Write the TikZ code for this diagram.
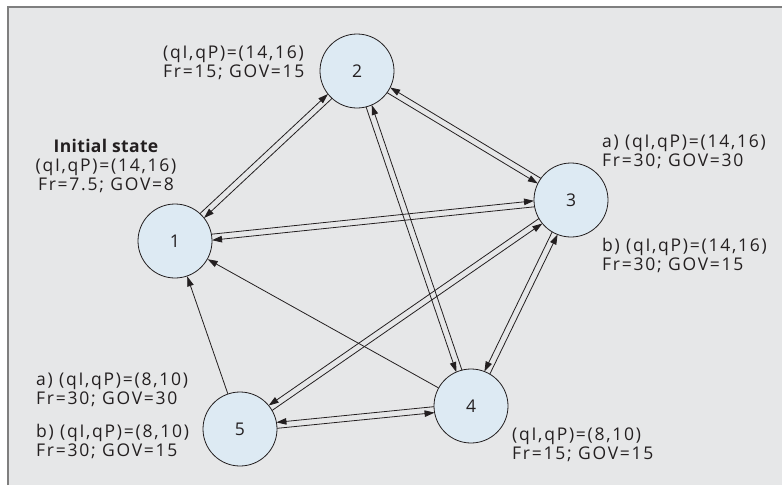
\documentclass[tikz,border=0pt]{standalone}
\usepackage{fontspec}
\setmainfont{Open Sans}[LetterSpace=10]
\usetikzlibrary{positioning, calc, arrows.meta}

\definecolor{panel}{HTML}{E6E7E8}
\definecolor{frame}{HTML}{7F7F7F}
\definecolor{statefill}{HTML}{DDEAF3}
\definecolor{ink}{HTML}{231F20}

\tikzset{
  state/.style={circle, draw=ink, fill=statefill, line width=0.8pt, minimum size=74pt, inner sep=0pt, text=ink},
  info/.style={inner sep=0pt, anchor=west, align=left, text=ink},
  arr/.style={draw=ink, line width=0.8pt, -{Triangle[length=10pt,width=6.5pt]}},
  parr/.style={arr, shorten <=36.9pt, shorten >=36.9pt}
}

\begin{document}
\begin{tikzpicture}[x=1pt, y=-1pt, font=\fontsize{17.5}{19}\selectfont]
                \useasboundingbox (0,0) rectangle (782,485);
                \fill [panel] (8,7) rectangle (782,485);
                \draw [frame, line width=1.5pt] (8,485) -- (8,7) -- (782,7);

                \node [state] (n1) at (175,241) {1};
                \node [state] (n2) at (357,71) {2};
                \node [state] (n3) at (571,200) {3};
                \node [state] (n4) at (471,406) {4};
                \node [state] (n5) at (240,429) {5};

                \node [info, anchor=center, align=center] (lab1) at (106,166) {{\addfontfeature{LetterSpace=2}\bfseries Initial state}\\(qI,qP)=(14,16)\\Fr=7.5; GOV=8};
                \node [info] (lab2) at (163,63) {(qI,qP)=(14,16)\\Fr=15; GOV=15};
                \node [info] (lab3a) at (602,152) {a) (qI,qP)=(14,16)\\Fr=30; GOV=30};
                \node [info] (lab3b) at (602,255) {b) (qI,qP)=(14,16)\\Fr=30; GOV=15};
                \node [info] (lab4) at (512,445) {(qI,qP)=(8,10)\\Fr=15; GOV=15};
                \node [info] (lab5a) at (36,390) {a) (qI,qP)=(8,10)\\Fr=30; GOV=30};
                \node [info] (lab5b) at (36,441) {b) (qI,qP)=(8,10)\\Fr=30; GOV=15};

                % paired transitions
                \draw [parr] ($(n1)!3pt!90:(n2)$) -- ($(n2)!3pt!-90:(n1)$);
                \draw [parr] ($(n2)!3pt!90:(n1)$) -- ($(n1)!3pt!-90:(n2)$);
                \draw [parr] ($(n1)!3pt!90:(n3)$) -- ($(n3)!3pt!-90:(n1)$);
                \draw [parr] ($(n3)!3pt!90:(n1)$) -- ($(n1)!3pt!-90:(n3)$);
                \draw [parr] ($(n2)!3pt!-90:(n3)$) -- ($(n3)!3pt!90:(n2)$);
                \draw [parr] ($(n3)!3pt!-90:(n2)$) -- ($(n2)!3pt!90:(n3)$);
                \draw [parr] ($(n2)!3pt!-90:(n4)$) -- ($(n4)!3pt!90:(n2)$);
                \draw [parr] ($(n4)!3pt!-90:(n2)$) -- ($(n2)!3pt!90:(n4)$);
                \draw [parr] ($(n3)!3pt!-90:(n4)$) -- ($(n4)!3pt!90:(n3)$);
                \draw [parr] ($(n4)!3pt!-90:(n3)$) -- ($(n3)!3pt!90:(n4)$);
                \draw [parr] ($(n3)!3pt!-90:(n5)$) -- ($(n5)!3pt!90:(n3)$);
                \draw [parr] ($(n5)!3pt!-90:(n3)$) -- ($(n3)!3pt!90:(n5)$);
                \draw [parr] ($(n4)!3pt!-90:(n5)$) -- ($(n5)!3pt!90:(n4)$);
                \draw [parr] ($(n5)!3pt!-90:(n4)$) -- ($(n4)!3pt!90:(n5)$);

                % single transitions
                \draw [arr] (n5) -- (n1);
                \draw [arr] (n4) -- (n1);
\end{tikzpicture}
\end{document}
